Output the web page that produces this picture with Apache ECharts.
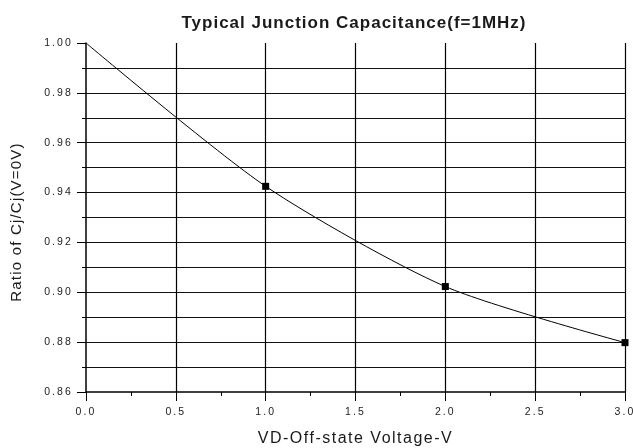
<!DOCTYPE html>
<html><head><meta charset="utf-8">
<script src="https://cdn.jsdelivr.net/npm/echarts@6/dist/echarts.min.js"></script>
<style>html,body{margin:0;padding:0;background:#fff}#c{width:633px;height:448px}</style>
</head><body><div id="c"></div>
<script>
const voltages = [0.0, 1.0, 2.0, 3.0];
const ratios = [1.000, 0.9425, 0.9023, 0.8798];
const showMarker = [false, true, true, true];
const titleText = 'Typical Junction Capacitance(f=1MHz)';
const xName = 'VD-Off-state Voltage-V';
const yName = 'Ratio of Cj/Cj(V=0V)';

// emulate the wide letter spacing of the original rendering
(function () {
  const P = CanvasRenderingContext2D.prototype;
  const spacingFor = f => {
    const m = /(\d+(?:\.\d+)?)px/.exec(f || '');
    const s = m ? parseFloat(m[1]) : 12;
    if (s >= 17) return '1px';
    if (s >= 16) return '1.5px';
    if (s >= 15) return '1.2px';
    return '2.1px';
  };
  if (!('letterSpacing' in P)) return;
  const ft = P.fillText, mt = P.measureText;
  P.fillText = function (t, x, y, w) {
    const old = this.letterSpacing; this.letterSpacing = spacingFor(this.font);
    w === undefined ? ft.call(this, t, x, y) : ft.call(this, t, x, y, w);
    this.letterSpacing = old;
  };
  P.measureText = function (t) {
    const old = this.letterSpacing; this.letterSpacing = spacingFor(this.font);
    const r = mt.call(this, t); this.letterSpacing = old; return r;
  };
})();

const chart = echarts.init(document.getElementById('c'), null, {renderer: 'canvas'});
const font = 'Liberation Sans, Arial, sans-serif';
chart.setOption({
  animation: false,
  backgroundColor: '#fff',
  title: {text: titleText, left: 349, top: 9, textAlign: 'center',
    textStyle: {fontFamily: font, fontSize: 17, fontWeight: 'bold', color: '#1a1a1a'}},
  grid: {left: 86, right: 8, top: 43, bottom: 56, containLabel: false, outerBoundsMode: 'none'},
  xAxis: {
    type: 'value', min: 0, max: 3, interval: 0.5,
    name: xName, nameLocation: 'middle', nameGap: 38,
    nameTextStyle: {fontFamily: font, fontSize: 16, color: '#1a1a1a'},
    axisLine: {show: true, onZero: false, lineStyle: {color: '#000', width: 1.5}},
    axisTick: {show: true, inside: false, length: 9, lineStyle: {color: '#000', width: 1}},
    minorTick: {show: true, splitNumber: 2, length: 4, lineStyle: {color: '#000', width: 1}},
    axisLabel: {fontFamily: font, fontSize: 10.5, color: '#222', margin: 14,
      formatter: v => v.toFixed(1)},
    splitLine: {show: true, showMinLine: false, lineStyle: {color: '#000', width: 1.2}}
  },
  yAxis: {
    type: 'value', min: 0.86, max: 1.00, interval: 0.02,
    name: yName, nameLocation: 'middle', nameGap: 61, nameRotate: 90,
    nameTextStyle: {fontFamily: font, fontSize: 15, color: '#1a1a1a', padding: [0, 9, 0, 0]},
    axisLine: {show: true, onZero: false, lineStyle: {color: '#000', width: 1.5}},
    axisTick: {show: true, inside: false, length: 9, lineStyle: {color: '#000', width: 1}},
    minorTick: {show: true, splitNumber: 2, length: 4, lineStyle: {color: '#000', width: 1}},
    axisLabel: {fontFamily: font, fontSize: 10.5, color: '#222', margin: 13,
      formatter: v => v.toFixed(2)},
    splitLine: {show: true, showMinLine: false, showMaxLine: false, lineStyle: {color: '#111', width: 1.2}},
    minorSplitLine: {show: true, lineStyle: {color: '#111', width: 1.2}}
  },
  series: [{
    type: 'line', smooth: 0.25,
    data: voltages.map((v, i) => ({value: [v, ratios[i]], symbol: showMarker[i] ? 'rect' : 'none'})),
    symbolSize: 7, showAllSymbol: true,
    lineStyle: {color: '#000', width: 1},
    itemStyle: {color: '#000'},
    clip: false
  }]
});
</script></body></html>
